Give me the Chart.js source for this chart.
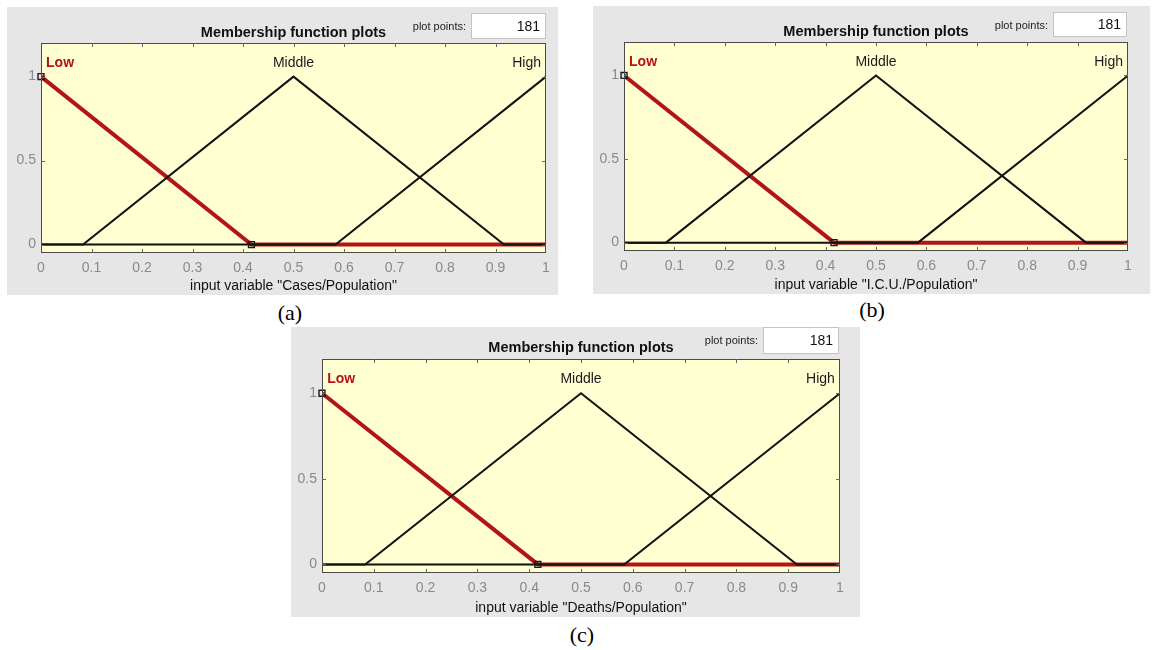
<!DOCTYPE html>
<html>
<head>
<meta charset="utf-8">
<script src="https://cdn.jsdelivr.net/npm/chart.js@4.4.1/dist/chart.umd.min.js"></script>
<style>
  body { margin: 0; background: #fff; font-family: "Liberation Sans", Arial, sans-serif; }
  #page { position: relative; width: 1156px; height: 650px; overflow: hidden; background: #fff; }
  .panel { position: absolute; background: #e6e6e6; }
  .panel canvas { position: absolute; left: 0; top: 0; }
  .title { position: absolute; width: 300px; height: 20px; line-height: 20px; text-align: center;
           font-weight: bold; font-size: 14.5px; color: #111; }
  .pp { position: absolute; width: 80px; height: 14px; line-height: 14px; text-align: right;
        font-size: 11px; color: #222; }
  .box { position: absolute; background: #fff; border: 1px solid #c4c4c4; box-sizing: border-box;
         font-size: 14px; color: #111; text-align: right; padding-right: 5px; }
  .cap { position: absolute; width: 60px; height: 26px; line-height: 26px; text-align: center;
         font-family: "Liberation Serif", "Times New Roman", serif; font-size: 22px; color: #000; }
</style>
</head>
<body>
<div id="page"></div>
<script>
// data
const inputNames = ["Cases/Population", "I.C.U./Population", "Deaths/Population"];
const captions = ["(a)", "(b)", "(c)"];
const mfNames = ["Low", "Middle", "High"];
const plotPoints = "181";

// membership functions (trimf breakpoints, same for the 3 inputs)
const lowX = [0, 0.4167, 1];
const lowY = [1, 0, 0];
const midX = [0, 0.0833, 0.5, 0.9167, 1];
const midY = [0, 0, 1, 0, 0];
const highX = [0, 0.5833, 1];
const highY = [0, 0, 1];
// selected mf vertices (small squares)
const markX = [0, 0.4167];
const markY = [1, 0];

const xTicks = [0, 0.1, 0.2, 0.3, 0.4, 0.5, 0.6, 0.7, 0.8, 0.9, 1];
const xTickLabels = ["0", "0.1", "0.2", "0.3", "0.4", "0.5", "0.6", "0.7", "0.8", "0.9", "1"];
const yTicks = [0, 0.5, 1];
const yTickLabels = ["0", "0.5", "1"];

// layout of the 3 panels (page pixels)
const layout = [
  { x: 7,   y: 7,   w: 551, h: 288, l: 41,  t: 43,  r: 546,  b: 253, ty: 32,  box: [471, 13, 75, 26],  cap: [290, 313] },
  { x: 593, y: 6,   w: 557, h: 288, l: 624, t: 42,  r: 1128, b: 251, ty: 31,  box: [1053, 12, 74, 25], cap: [872, 310] },
  { x: 291, y: 327, w: 569, h: 290, l: 322, t: 359, r: 840,  b: 573, ty: 347, box: [763, 327, 76, 27], cap: [582, 635] }
];

Chart.defaults.font.family = "'Liberation Sans', Arial, sans-serif";

const page = document.getElementById("page");

function pts(xs, ys) {
  return xs.map((v, i) => ({ x: v, y: ys[i] }));
}

function addDiv(cls, left, top, text) {
  const d = document.createElement("div");
  d.className = cls;
  d.style.left = left + "px";
  d.style.top = top + "px";
  if (text !== undefined) d.textContent = text;
  page.appendChild(d);
  return d;
}

// yellow axes background, box, inward ticks, mf names
const framePlugin = {
  id: "frame",
  beforeDatasetsDraw(chart) {
    const { ctx, chartArea: a } = chart;
    ctx.save();
    ctx.fillStyle = "#ffffd2";
    ctx.fillRect(a.left, a.top, a.right - a.left, a.bottom - a.top);
    ctx.restore();
  },
  afterDatasetsDraw(chart) {
    const { ctx, chartArea: a, scales } = chart;
    ctx.save();
    ctx.strokeStyle = "#4a4a4a";
    ctx.lineWidth = 1;
    ctx.strokeRect(Math.round(a.left) + 0.5, Math.round(a.top) + 0.5,
      Math.round(a.right - a.left) - 1, Math.round(a.bottom - a.top) - 1);
    ctx.strokeStyle = "#666";
    ctx.beginPath();
    xTicks.forEach(v => {
      if (v === 0 || v === 1) return;
      const px = Math.round(scales.x.getPixelForValue(v)) + 0.5;
      ctx.moveTo(px, a.bottom); ctx.lineTo(px, a.bottom - 4);
      ctx.moveTo(px, a.top); ctx.lineTo(px, a.top + 4);
    });
    yTicks.forEach(v => {
      const py = Math.round(scales.y.getPixelForValue(v)) + 0.5;
      ctx.moveTo(a.left, py); ctx.lineTo(a.left + 4, py);
      ctx.moveTo(a.right, py); ctx.lineTo(a.right - 4, py);
    });
    ctx.stroke();

    // mf labels
    const ly = scales.y.getPixelForValue(1.08);
    ctx.textBaseline = "middle";
    ctx.font = "bold 14px 'Liberation Sans', Arial, sans-serif";
    ctx.fillStyle = "#b3141a";
    ctx.textAlign = "left";
    ctx.fillText(mfNames[0], scales.x.getPixelForValue(0.01), ly);
    ctx.font = "14px 'Liberation Sans', Arial, sans-serif";
    ctx.fillStyle = "#1a1a1a";
    ctx.textAlign = "center";
    ctx.fillText(mfNames[1], scales.x.getPixelForValue(0.5), ly);
    ctx.textAlign = "right";
    ctx.fillText(mfNames[2], scales.x.getPixelForValue(0.99), ly);
    ctx.restore();
  }
};

function makePanel(k) {
  const L = layout[k];
  const panel = document.createElement("div");
  panel.className = "panel";
  panel.style.left = L.x + "px";
  panel.style.top = L.y + "px";
  panel.style.width = L.w + "px";
  panel.style.height = L.h + "px";
  const cv = document.createElement("canvas");
  cv.width = L.w;
  cv.height = L.h;
  panel.appendChild(cv);
  page.appendChild(panel);

  const yW = 26;
  const xH = L.y + L.h - L.b;

  new Chart(cv, {
    type: "scatter",
    data: {
      datasets: [
        { data: pts(markX, markY), showLine: false, pointStyle: "rect", pointRadius: 4.2,
          pointBackgroundColor: "rgba(0,0,0,0)", pointBorderColor: "#1a1a1a", pointBorderWidth: 1.4,
          clip: false, order: 0 },
        { data: pts(highX, highY), showLine: true, borderColor: "#111", borderWidth: 2,
          pointRadius: 0, order: 1 },
        { data: pts(midX, midY), showLine: true, borderColor: "#111", borderWidth: 2,
          pointRadius: 0, order: 2 },
        { data: pts(lowX, lowY), showLine: true, borderColor: "#b3141a", borderWidth: 4,
          pointRadius: 0, order: 3 }
      ]
    },
    options: {
      responsive: false,
      animation: false,
      devicePixelRatio: 1,
      layout: { padding: { left: L.l - L.x - yW, top: L.t - L.y, right: L.x + L.w - L.r, bottom: 0 } },
      plugins: { legend: { display: false }, tooltip: { enabled: false } },
      scales: {
        x: {
          type: "linear", min: 0, max: 1,
          afterBuildTicks: s => { s.ticks = xTicks.map(v => ({ value: v })); },
          afterFit: s => { s.height = xH; },
          grid: { display: false, drawTicks: false },
          border: { display: false },
          ticks: { callback: (v, i) => xTickLabels[i], color: "#8a8a8a", font: { size: 14 },
                   padding: 7, maxRotation: 0, autoSkip: false },
          title: { display: true, text: 'input variable "' + inputNames[k] + '"', color: "#111",
                   font: { size: 14 }, padding: 0 }
        },
        y: {
          type: "linear", min: -0.05, max: 1.2,
          afterBuildTicks: s => { s.ticks = yTicks.map(v => ({ value: v })); },
          afterFit: s => { s.width = yW; },
          grid: { display: false, drawTicks: false },
          border: { display: false },
          ticks: { callback: (v, i) => yTickLabels[i], color: "#8a8a8a", font: { size: 14 }, padding: 5 }
        }
      }
    },
    plugins: [framePlugin]
  });

  // window texts
  addDiv("title", (L.l + L.r) / 2 - 150, L.ty - 10, "Membership function plots");
  const b = L.box;
  addDiv("pp", b[0] - 85, b[1] + 6, "plot points:");
  const box = addDiv("box", b[0], b[1], plotPoints);
  box.style.width = b[2] + "px";
  box.style.height = b[3] + "px";
  box.style.lineHeight = (b[3] - 2) + "px";
  addDiv("cap", L.cap[0] - 30, L.cap[1] - 13, captions[k]);
}

[0, 1, 2].forEach(makePanel);
</script>
</body>
</html>
